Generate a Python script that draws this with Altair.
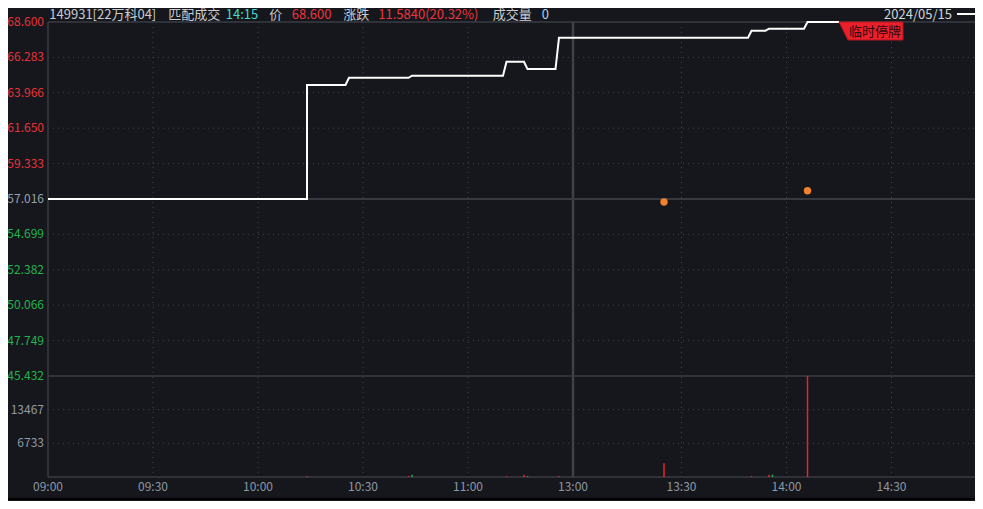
import altair as alt
import pandas as pd

# ---------------- data ----------------
line_times = ["09:00", "10:14", "10:14", "10:25", "10:26", "10:43", "10:44", "11:10", "11:11",
              "11:16", "11:17", "11:25", "11:26", "13:49", "13:50", "13:54", "13:55", "14:05",
              "14:06", "14:15"]
line_prices = [57.016, 57.016, 64.48, 64.48, 64.95, 64.95, 65.09, 65.09, 66.00,
               66.00, 65.52, 65.52, 67.57, 67.57, 68.03, 68.03, 68.16, 68.16,
               68.60, 68.60]

dot_times = ["13:25", "14:06"]
dot_prices = [56.82, 57.56]

vol_times = ["10:14", "10:43", "10:44", "11:11", "11:16", "11:17", "11:26", "13:25",
             "13:50", "13:55", "13:56", "14:06"]
vol_values = [200, 200, 450, 150, 450, 200, 200, 2750, 200, 450, 480, 20200]
vol_dir = ["up", "up", "down", "up", "up", "down", "up", "up", "up", "up", "down", "up"]

price_ticks = [68.600, 66.283, 63.966, 61.650, 59.333, 57.016, 54.699, 52.382, 50.066, 47.749, 45.432]
prev_close = 57.016
vol_ticks = [13467, 6733]
vol_max = 20200

x_tick_times = ["09:00", "09:30", "10:00", "10:30", "11:00", "11:30", "13:30", "14:00", "14:30"]
x_tick_labels = ["09:00", "09:30", "10:00", "10:30", "11:00", "13:00", "13:30", "14:00", "14:30"]

tag_text = "临时停牌"
header = [("149931[22万科04]", "#c9cdd2", 1.3), ("匹配成交", "#c9cdd2", 120.3), ("14:15", "#42d8d4", 177.7),
          ("价", "#c9cdd2", 221.3), ("68.600", "#f0343c", 243.7), ("涨跌", "#c9cdd2", 295.3),
          ("11.5840(20.32%)", "#f0343c", 330.3), ("成交量", "#c9cdd2", 444.7), ("0", "#a8d0f2", 493.7)]
date_text = "2024/05/15"

# ---------------- styling ----------------
FONT = "Noto Sans CJK SC"
BG = "#15171c"
GRID = "#3f434b"
FRAME = "#3a3d44"
RED = "#e8222c"
GREEN = "#1fae48"
W, H = 927, 455
PX = 3.5
HEAD_Y = -7


def idx(t):
    h, m = map(int, t.split(":"))
    mm = h * 60 + m
    return mm - 540 if mm <= 690 else 151 + (mm - 780)


xs = alt.Scale(domain=[0, W / PX], range=[0, W], nice=False, zero=False)
ps = alt.Scale(domain=[45.432, 68.6], range=[354, 0], nice=False, zero=False)
vs = alt.Scale(domain=[0, vol_max], range=[H, 354], nice=False, zero=False)

X = lambda: alt.X("i:Q", scale=xs, axis=None)
YP = lambda: alt.Y("p:Q", scale=ps, axis=None)
YV = lambda: alt.Y("v:Q", scale=vs, axis=None)

one = alt.Data(values=[{"a": 0}])

# data frames
line_df = pd.DataFrame({"i": [idx(t) for t in line_times], "p": line_prices, "o": range(len(line_times))})
dot_df = pd.DataFrame({"i": [idx(t) for t in dot_times], "p": dot_prices})
vol_df = pd.DataFrame({"i": [idx(t) for t in vol_times], "v": vol_values, "z": 0, "c": vol_dir})
xt_df = pd.DataFrame({"i": [idx(t) for t in x_tick_times], "t": x_tick_labels})
pt_df = pd.DataFrame({"p": price_ticks, "t": [f"{v:.3f}" for v in price_ticks],
                      "c": ["#e8323a" if v > prev_close + 1e-9 else ("#98a0aa" if abs(v - prev_close) < 1e-9 else "#22b34c")
                            for v in price_ticks]})
vt_df = pd.DataFrame({"v": vol_ticks, "t": [str(v) for v in vol_ticks]})

layers = []

# vertical dotted grid
vg = xt_df[~xt_df["t"].isin(["09:00", "13:00"])]
layers.append(alt.Chart(vg).mark_rule(color=GRID, strokeDash=[1, 4], strokeWidth=1)
              .encode(x=X(), y=alt.value(0), y2=alt.value(H)))
# horizontal dotted price grid
hg = pt_df[(pt_df["p"] != price_ticks[0]) & (pt_df["p"] != price_ticks[-1]) & (pt_df["p"] != prev_close)]
layers.append(alt.Chart(hg).mark_rule(color=GRID, strokeDash=[1, 4], strokeWidth=1)
              .encode(y=YP(), x=alt.value(0), x2=alt.value(W)))
# volume dotted grid
layers.append(alt.Chart(vt_df).mark_rule(color=GRID, strokeDash=[1, 4], strokeWidth=1)
              .encode(y=YV(), x=alt.value(0), x2=alt.value(W)))
# frame lines
fr = pt_df[(pt_df["p"] == price_ticks[0]) | (pt_df["p"] == price_ticks[-1])]
layers.append(alt.Chart(fr).mark_rule(color=FRAME, strokeWidth=1.5)
              .encode(y=YP(), x=alt.value(0), x2=alt.value(W)))
layers.append(alt.Chart(pd.DataFrame({"v": [0]})).mark_rule(color=FRAME, strokeWidth=1.5)
              .encode(y=YV(), x=alt.value(0), x2=alt.value(W)))
layers.append(alt.Chart(one).mark_rule(color=FRAME, strokeWidth=1.5)
              .encode(x=alt.value(0), y=alt.value(0), y2=alt.value(H)))
# 13:00 separator
sep = xt_df[xt_df["t"] == "13:00"]
layers.append(alt.Chart(sep).mark_rule(color="#3d4047", strokeWidth=2.5)
              .encode(x=X(), y=alt.value(0), y2=alt.value(H)))
# previous close line
layers.append(alt.Chart(pd.DataFrame({"p": [prev_close]})).mark_rule(color="#36393f", strokeWidth=2)
              .encode(y=YP(), x=alt.value(0), x2=alt.value(W)))
# volume bars
layers.append(alt.Chart(vol_df).mark_rule(strokeWidth=1.5)
              .encode(x=X(), y=YV(), y2="z:Q",
                      color=alt.Color("c:N", scale=alt.Scale(domain=["up", "down"], range=[RED, GREEN]), legend=None)))
# price line
layers.append(alt.Chart(line_df).mark_line(color="white", strokeWidth=2)
              .encode(x=X(), y=YP(), order="o:Q"))
# dots
layers.append(alt.Chart(dot_df).mark_circle(size=55, color="#f2812e", opacity=1)
              .encode(x=X(), y=YP()))
# halt tag
tag_df = line_df.tail(1)
tag_path = "M 0 0 L 2 0 L 2 0.5625 L 0.28 0.5625 Z"
layers.append(alt.Chart(tag_df).mark_point(shape=tag_path, size=4096, filled=True, fill="#ec1f2b",
                                           stroke="#b0161f", strokeWidth=1, opacity=1)
              .encode(x=X(), y=YP()))
layers.append(alt.Chart(tag_df).mark_text(text=tag_text, dx=36, dy=9.5, fontSize=13, font=FONT,
                                          color="#2a0c0e", align="center", baseline="middle")
              .encode(x=X(), y=YP()))
# price axis labels
layers.append(alt.Chart(pt_df).mark_text(align="right", baseline="middle", fontSize=12, font=FONT)
              .encode(x=alt.value(-4), y=YP(), text="t:N", color=alt.Color("c:N", scale=None)))
# volume axis labels
layers.append(alt.Chart(vt_df).mark_text(align="right", baseline="middle", fontSize=12, font=FONT, color="#939aa3")
              .encode(x=alt.value(-4), y=YV(), text="t:N"))
# time labels
layers.append(alt.Chart(xt_df).mark_text(align="center", baseline="middle", fontSize=12, font=FONT, color="#8e98a5")
              .encode(x=X(), y=alt.value(465), text="t:N"))
# header
for s, c, px in header:
    layers.append(alt.Chart(one).mark_text(text=s, align="left", baseline="middle", fontSize=13, font=FONT, color=c)
                  .encode(x=alt.value(px), y=alt.value(HEAD_Y)))
layers.append(alt.Chart(one).mark_text(text=date_text, align="right", baseline="middle", fontSize=13, font=FONT,
                                       color="#d2d6da")
              .encode(x=alt.value(904), y=alt.value(HEAD_Y)))
layers.append(alt.Chart(one).mark_rule(color="white", strokeWidth=2)
              .encode(x=alt.value(909), x2=alt.value(927), y=alt.value(HEAD_Y - 1)))
# bottom band
layers.append(alt.Chart(one).mark_rect(color="#000000")
              .encode(x=alt.value(-40), x2=alt.value(W), y=alt.value(476), y2=alt.value(478)))

chart = (alt.layer(*layers)
         .resolve_scale(y="independent")
         .properties(width=W, height=H, background=BG,
                     autosize=alt.AutoSizeParams(type="none"),
                     padding={"left": 40, "top": 14, "right": 0, "bottom": 24})
         .configure_view(stroke=None))

chart.save("out.html", embed_options={"renderer": "svg", "actions": False})
